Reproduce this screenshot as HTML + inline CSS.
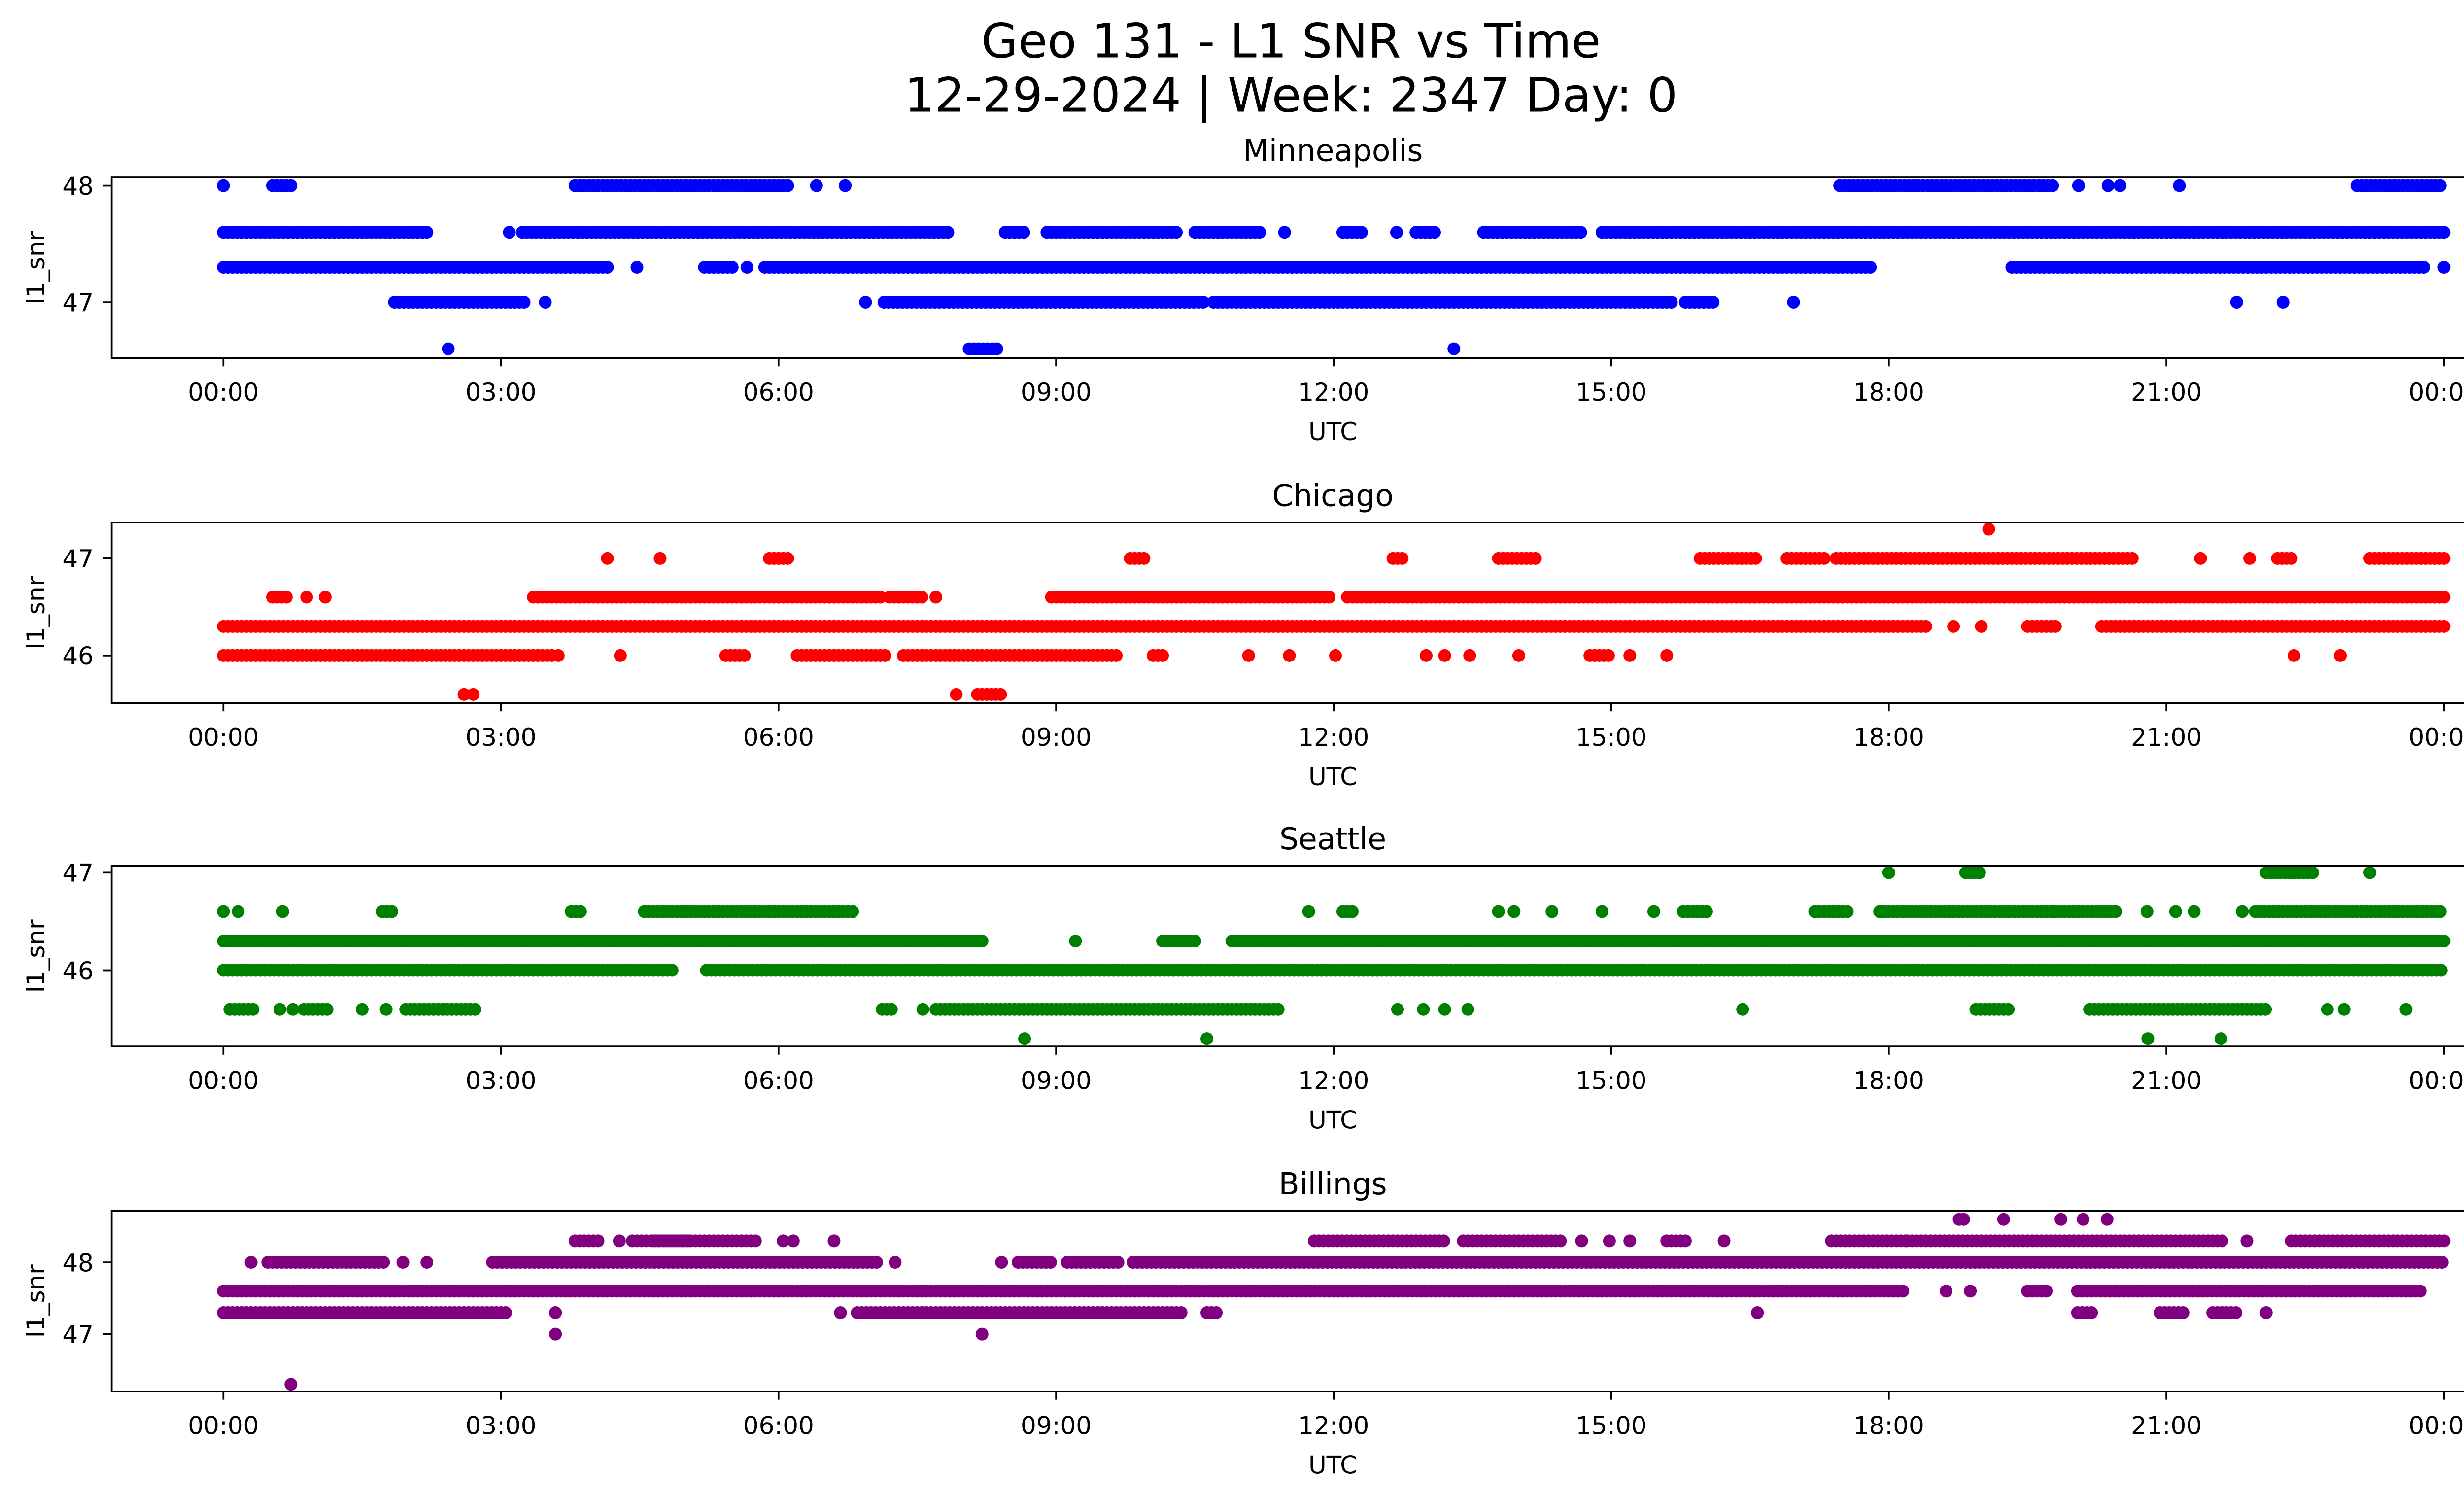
<!DOCTYPE html>
<html><head><meta charset="utf-8"><style>
html,body{margin:0;padding:0;background:#fff;overflow:hidden;}
svg{display:block;font-family:"DejaVu Sans","Liberation Sans",sans-serif;}
</style></head><body>
<svg id="fig" width="5226" height="3033" viewBox="0 0 1568 910" xmlns="http://www.w3.org/2000/svg">
<rect width="1568" height="910" fill="#fff"/>
<text x="786" y="35" font-size="29" text-anchor="middle">Geo 131 - L1 SNR vs Time</text>
<text x="786" y="68" font-size="29" text-anchor="middle">12-29-2024 | Week: 2347 Day: 0</text>
<g id="plots"></g>
</svg>
<script>
// ---- data ----
const stationNames = ["Minneapolis","Chicago","Seattle","Billings"];
const stationColors = ["blue","red","green","purple"];
const yTicks0 = [47,48], yTicks1 = [46,47], yTicks2 = [46,47], yTicks3 = [47,48];
const xTickLabels = ["00:00","03:00","06:00","09:00","12:00","15:00","18:00","21:00","00:00"];
const xTickHours = [0,3,6,9,12,15,18,21,24];
const mplsLevels = [48,47.6,47.3,47.0,46.6];
const mplsRuns = [
 [0,[0.53,0.75],[3.8,6.1],6.41,6.72,[17.47,19.78],20.05,20.37,20.5,21.14,[23.06,24]],
 [[0,2.2],3.09,[3.23,7.85],[8.45,8.65],[8.9,10.3],[10.5,11.2],11.47,[12.1,12.33],12.68,[12.89,13.12],[13.62,14.7],[14.9,24]],
 [[0,4.15],4.47,[5.2,5.5],5.66,[5.85,17.8],[19.33,23.8],24],
 [[1.85,3.27],3.48,6.94,[7.14,10.6],[10.7,15.65],[15.8,16.1],16.97,21.76,22.26],
 [2.43,[8.06,8.39],13.3]
];
const chiLevels = [47.3,47.0,46.6,46.3,46.0,45.6];
const chiRuns = [
 [19.08],
 [4.15,4.72,[5.9,6.1],[9.8,9.96],[12.64,12.78],[13.78,14.18],[15.96,16.6],[16.9,17.3],[17.43,20.66],21.37,21.9,[22.2,22.35],[23.2,24]],
 [[0.53,0.7],0.9,1.1,[3.35,7.1],[7.2,7.55],7.7,[8.95,11.95],[12.15,24]],
 [[0,18.4],18.7,19.0,[19.5,19.8],[20.3,24]],
 [[0,3.55],3.62,4.29,[5.43,5.66],[6.2,7.17],[7.35,9.66],[10.05,10.15],11.08,11.52,12.02,13.0,13.2,13.47,14.0,[14.77,14.98],15.2,15.6,22.38,22.88],
 [2.6,2.7,7.92,[8.15,8.42]]
];
const seaLevels = [47,46.6,46.3,46.0,45.6,45.3];
const seaRuns = [
 [18.0,[18.83,19.0],[22.08,22.6],23.2],
 [0,0.16,0.64,[1.72,1.85],[3.76,3.9],[4.55,6.82],11.73,[12.1,12.23],13.78,13.95,14.36,14.9,15.46,[15.78,16.05],[17.2,17.56],[17.9,20.49],20.79,21.1,21.3,21.82,[21.96,24]],
 [[0,8.24],9.21,[10.15,10.5],[10.9,24]],
 [[0,4.86],[5.22,24]],
 [[0.07,0.34],0.61,0.75,[0.87,1.14],1.5,1.76,[1.97,2.73],[7.12,7.26],7.56,[7.7,11.43],12.69,12.97,13.2,13.45,16.42,[18.94,19.33],[20.17,22.08],22.74,22.92,23.59],
 [8.66,10.63,20.8,21.59]
];
const bilLevels = [48.6,48.3,48.0,47.6,47.3,47.0,46.3];
const bilRuns = [
 [[18.76,18.85],19.24,19.86,20.1,20.36],
 [[3.8,4.07],4.28,[4.42,5.04],[4.65,5.75],6.05,6.16,6.6,[11.79,13.2],[13.4,14.45],14.68,14.98,15.2,[15.6,15.8],16.22,[17.38,18.18],[18.2,21.64],21.87,[22.35,24]],
 [0.3,[0.48,1.76],1.94,2.2,[2.91,7.08],7.26,8.41,[8.59,8.95],[9.12,9.69],[9.83,24]],
 [[0,18.18],18.62,18.88,[19.5,19.7],[20.04,23.77]],
 [[0,3.09],3.59,6.67,[6.85,10.37],[10.63,10.76],16.58,[20.04,20.22],[20.93,21.2],[21.5,21.76],22.08],
 [3.59,8.2],
 [0.73]
];
const panels = [
 {top:108,bot:218,ymax:48.07,ymin:46.52,levels:mplsLevels,runs:mplsRuns,ticks:yTicks0},
 {top:318,bot:428,ymax:47.37,ymin:45.51,levels:chiLevels,runs:chiRuns,ticks:yTicks1},
 {top:527,bot:637,ymax:47.07,ymin:45.22,levels:seaLevels,runs:seaRuns,ticks:yTicks2},
 {top:737,bot:847,ymax:48.72,ymin:46.2,levels:bilLevels,runs:bilRuns,ticks:yTicks3}
];
const NS="http://www.w3.org/2000/svg";
const L=68,R=1555;
function xScale(h){return 136+(h/24)*1352;}
function mk(tag,attrs,parent){const e=document.createElementNS(NS,tag);for(const k in attrs)e.setAttribute(k,attrs[k]);parent.appendChild(e);return e;}
const root=document.getElementById('plots');
panels.forEach((p,i)=>{
 const g=mk('g',{},root);
 
 
 const yScale=v=>p.top+(p.ymax-v)/(p.ymax-p.ymin)*(p.bot-p.top);
 const t=mk('text',{x:811.5,y:p.top-10,'font-size':18.4,'text-anchor':'middle'},g);
 t.textContent=stationNames[i];
 
 
 const pts=mk('g',{fill:stationColors[i]},g);
 
 
 p.levels.forEach((lv,j)=>{
  const y=yScale(lv);
  p.runs[j].forEach(r=>{
   let hs=[];
   if(Array.isArray(r)){for(let h=r[0];h<=r[1]+1e-9;h+=0.05)hs.push(h);}
   else hs.push(r);
   hs.forEach(h=>{
    const c=mk('circle',{cx:xScale(h).toFixed(1),cy:y.toFixed(1),r:3.9},pts);
    
    
   });
  });
 });
 const fr=mk('rect',{x:L,y:p.top,width:R-L,height:p.bot-p.top,fill:'none',stroke:'#000','stroke-width':1.1},g);
 
 
 xTickHours.forEach((h,k)=>{
  const x=xScale(h);
  mk('line',{x1:x,x2:x,y1:p.bot,y2:p.bot+5,stroke:'#000','stroke-width':1.1},g);
  const tl=mk('text',{x:x,y:p.bot+26,'font-size':15,'text-anchor':'middle'},g);
  tl.textContent=xTickLabels[k];
  
  
 });
 p.ticks.forEach(v=>{
  const y=yScale(v);
  mk('line',{x1:L-5,x2:L,y1:y,y2:y,stroke:'#000','stroke-width':1.1},g);
  const tl=mk('text',{x:L-11,y:y+5.5,'font-size':15,'text-anchor':'end'},g);
  tl.textContent=v;
  
  
 });
 const xl=mk('text',{x:811.5,y:p.bot+50,'font-size':15,'text-anchor':'middle'},g);
 xl.textContent='UTC';
 
 
 const ym=(p.top+p.bot)/2;
 const yl=mk('text',{x:27,y:ym,'font-size':15,'text-anchor':'middle',transform:`rotate(-90 27 ${ym})`},g);
 yl.textContent='l1_snr';
 
 
});
</script>
</body></html>
